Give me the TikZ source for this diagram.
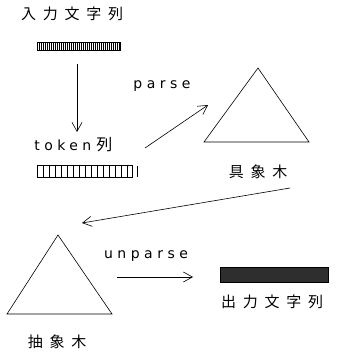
\documentclass[tikz,border=0pt]{standalone}
\usepackage{fontspec}
\usetikzlibrary{arrows.meta}
\newfontfamily\jp[LetterSpace=45]{Noto Sans CJK JP}
\newfontfamily\lat[LetterSpace=32]{DejaVu Sans}
\begin{document}
\begin{tikzpicture}[x=1pt,y=-1pt,line width=0.6pt,
  arr/.style={-{Straight Barb[length=9pt,width=10pt]}},
  jtext/.style={font=\jp\fontsize{15}{15}\selectfont,inner sep=0pt},
  ltext/.style={font=\lat\fontsize{14}{14}\selectfont,inner sep=0pt}]
\useasboundingbox (0,0) rectangle (338,352);
% texts
\node[jtext] (in) at (72,14) {入力文字列};
\node[inner sep=0pt,anchor=west] (tok) at (34,145) {\lat\fontsize{14}{14}\selectfont token\hspace{5pt}\jp\fontsize{16}{16}\selectfont 列};
\node[ltext] (parse) at (162,86) {parse};
\node[ltext] (unparse) at (146,256) {unparse};
\node[jtext] (cst) at (258,172) {具象木};
\node[jtext] (out) at (272,302) {出力文字列};
\node[jtext] (ast) at (57,342) {抽象木};
% input bar
\draw[line width=0.6pt] (37,42) rectangle (120,50);
\foreach \i in {39,41,...,119} \draw[line width=0.8pt] (\i,42) -- (\i,50);
% token bar
\draw[line width=0.6pt] (37,165) rectangle (132,177);
\foreach \i in {43,49,...,131} \draw[line width=0.6pt] (\i,165) -- (\i,177);
\draw[line width=0.6pt] (137,166) -- (137,177);
% output bar
\node[draw=black,fill=black!82,minimum width=108pt,minimum height=15pt,inner sep=0pt] (outbar) at (274,274.5) {};
% triangles
\coordinate (c1) at (258,68);
\coordinate (c2) at (204,142);
\coordinate (c3) at (309,142);
\draw (c1) -- (c2) -- (c3) -- cycle;
\coordinate (a1) at (58,235);
\coordinate (a2) at (7,314);
\coordinate (a3) at (112,314);
\draw (a1) -- (a2) -- (a3) -- cycle;
% arrows
\coordinate (p1) at (77,64);
\coordinate (p2) at (77,132);
\draw[arr] (p1) -- (p2);
\coordinate (q1) at (145,148);
\coordinate (q2) at (208,105);
\draw[arr] (q1) -- (q2);
\coordinate (r1) at (290,188);
\coordinate (r2) at (82,223);
\draw[arr] (r1) -- (r2);
\coordinate (s1) at (117,277);
\coordinate (s2) at (193,277);
\draw[arr] (s1) -- (s2);
\end{tikzpicture}
\end{document}
